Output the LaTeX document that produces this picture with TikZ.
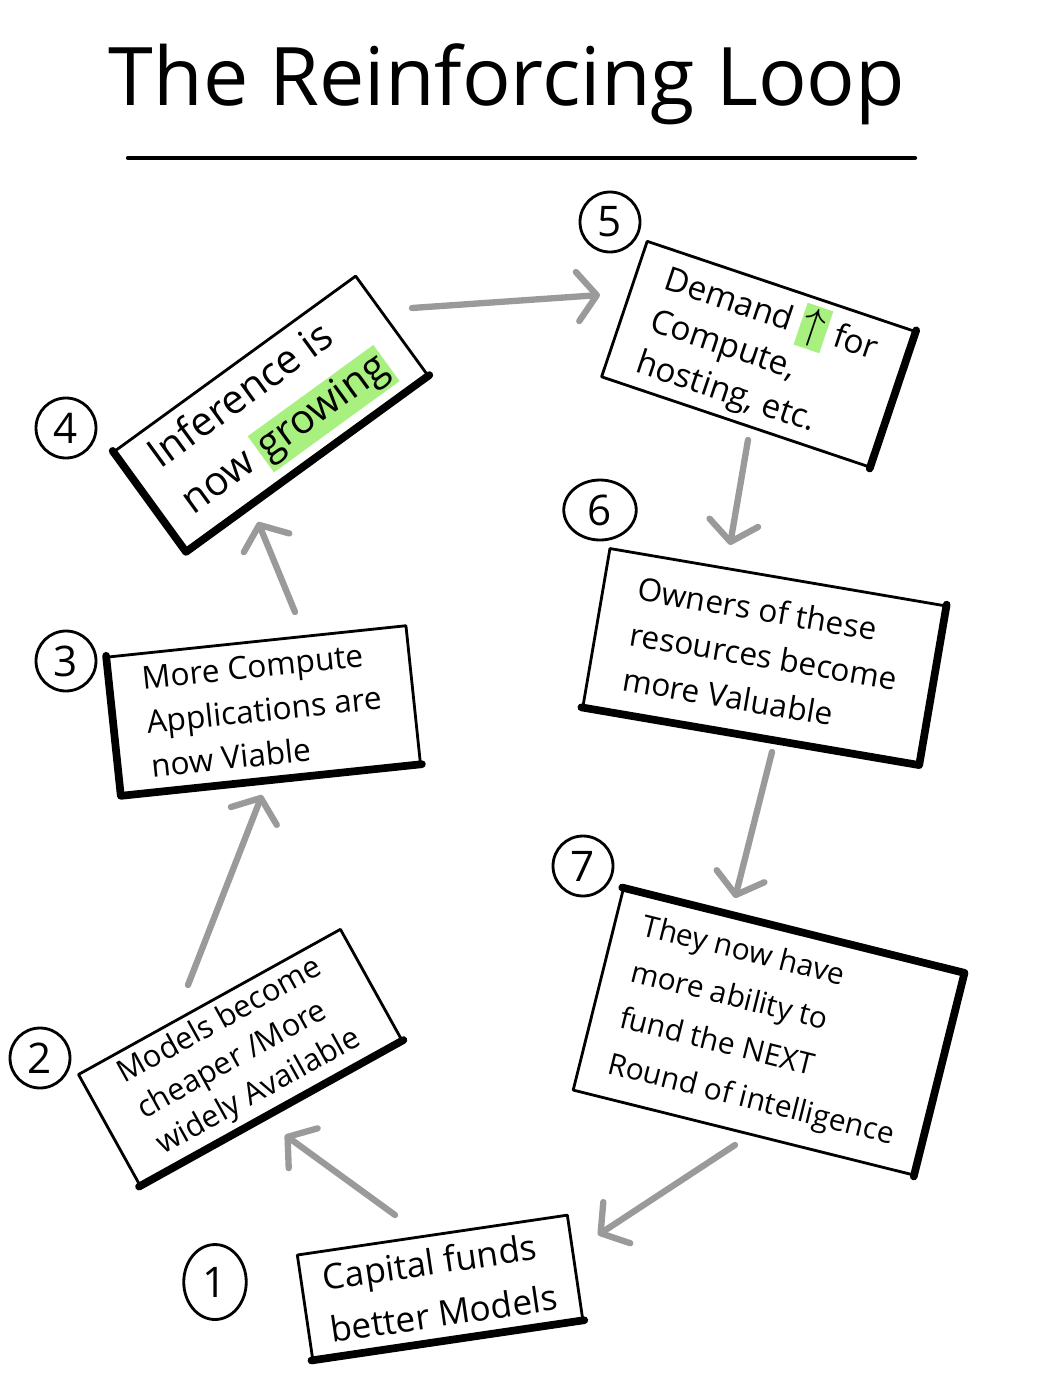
\documentclass[tikz,border=0pt]{standalone}
\usepackage{fontspec}
\setmainfont{Open Sans}
\usetikzlibrary{arrows.meta,shapes.geometric}
\definecolor{arr}{HTML}{9A9A9A}
\definecolor{hl}{HTML}{A8F07F}
\setlength{\fboxsep}{1.5pt}
\begin{document}
\begin{tikzpicture}[x=0.02cm,y=-0.02cm,
  boxnode/.style={draw=black, line width=1.6pt, fill=white, align=left, inner sep=0pt, line join=round},
  heavy/.style={line width=4.4pt, line cap=round, line join=round},
  flow/.style={draw=arr, line width=3.6pt, line cap=round, line join=round, -{Straight Barb[length=11pt,width=28pt,round]}},
  numc/.style={draw, ellipse, line width=1.6pt, minimum width=1.2cm, minimum height=1.2cm, inner sep=0pt, font=\fontsize{24}{24}\selectfont}
]
\useasboundingbox (0,0) rectangle (1038,1380);

% title
\node[font=\fontsize{46}{52}\selectfont] (title) at (507,84) {The Reinforcing Loop};
\coordinate (ulL) at (128,158);
\coordinate (ulR) at (915,158);
\draw[line width=2.4pt, line cap=round] (ulL) -- (ulR);

% boxes
\node[boxnode, rotate=8.4, minimum width=5.46cm, minimum height=2.1cm,
      font=\fontsize{20}{30}\selectfont] (b1) at (440,1287) {Capital funds\\better Models};
\draw[heavy] (b1.south west) -- (b1.south east);

\node[boxnode, rotate=29, minimum width=5.99cm, minimum height=2.52cm,
      font=\fontsize{17.5}{23}\selectfont] (b2) at (240,1057) {Models become\\cheaper /More\\widely Available};
\draw[heavy] (b2.south west) -- (b2.south east);

\node[boxnode, rotate=6, minimum width=6.0cm, minimum height=2.76cm,
      font=\fontsize{18}{25}\selectfont] (b3) at (264,710) {More Compute\\Applications are\\now Viable};
\draw[heavy] (b3.north west) -- (b3.south west) -- (b3.south east);

\node[boxnode, rotate=36, minimum width=5.96cm, minimum height=2.44cm,
      font=\fontsize{23}{32}\selectfont] (b4) at (271,413) {Inference is\\now \colorbox{hl}{growing}};
\draw[heavy] (b4.north west) -- (b4.south west) -- (b4.south east);

\node[boxnode, rotate=-18.6, minimum width=5.64cm, minimum height=2.86cm,
      font=\fontsize{19}{25}\selectfont] (b5) at (758,354) {Demand \colorbox{hl}{\fontsize{24}{24}\selectfont$\uparrow$} for\\Compute,\\hosting, etc.};
\draw[heavy] (b5.north east) -- (b5.south east);

\node[boxnode, rotate=-9.7, minimum width=6.8cm, minimum height=3.2cm,
      font=\fontsize{18}{26}\selectfont] (b6) at (764,656) {Owners of these\\resources become\\more Valuable};
\draw[heavy] (b6.north east) -- (b6.south east) -- (b6.south west);

\node[boxnode, rotate=-14, minimum width=7.0cm, minimum height=4.14cm,
      font=\fontsize{17}{27}\selectfont] (b7) at (768,1032) {They now have\\more ability to\\fund the NEXT\\Round of intelligence};
\draw[heavy] (b7.north west) -- (b7.north east) -- (b7.south east);

% numbers
\node[numc, minimum width=1.25cm, minimum height=1.5cm] (n1) at (215,1282) {1};
\node[numc] (n2) at (40,1058) {2};
\node[numc] (n3) at (66,661) {3};
\node[numc] (n4) at (66,428) {4};
\node[numc] (n5) at (610,222) {5};
\node[numc, minimum width=1.45cm] (n6) at (600,510) {6};
\node[numc] (n7) at (583,866) {7};

% arrows
\coordinate (a12s) at (395,1215); \coordinate (a12e) at (285,1135);
\coordinate (a23s) at (188,985);  \coordinate (a23e) at (262,795);
\coordinate (a34s) at (295,612);  \coordinate (a34e) at (258,522);
\coordinate (a45s) at (412,308);  \coordinate (a45e) at (600,295);
\coordinate (a56s) at (748,440);  \coordinate (a56e) at (730,545);
\coordinate (a67s) at (772,752);  \coordinate (a67e) at (735,898);
\coordinate (a71s) at (735,1145); \coordinate (a71e) at (598,1235);
\draw[flow] (a12s) -- (a12e);
\draw[flow] (a23s) -- (a23e);
\draw[flow] (a34s) -- (a34e);
\draw[flow] (a45s) -- (a45e);
\draw[flow] (a56s) -- (a56e);
\draw[flow] (a67s) -- (a67e);
\draw[flow] (a71s) -- (a71e);
\end{tikzpicture}
\end{document}
